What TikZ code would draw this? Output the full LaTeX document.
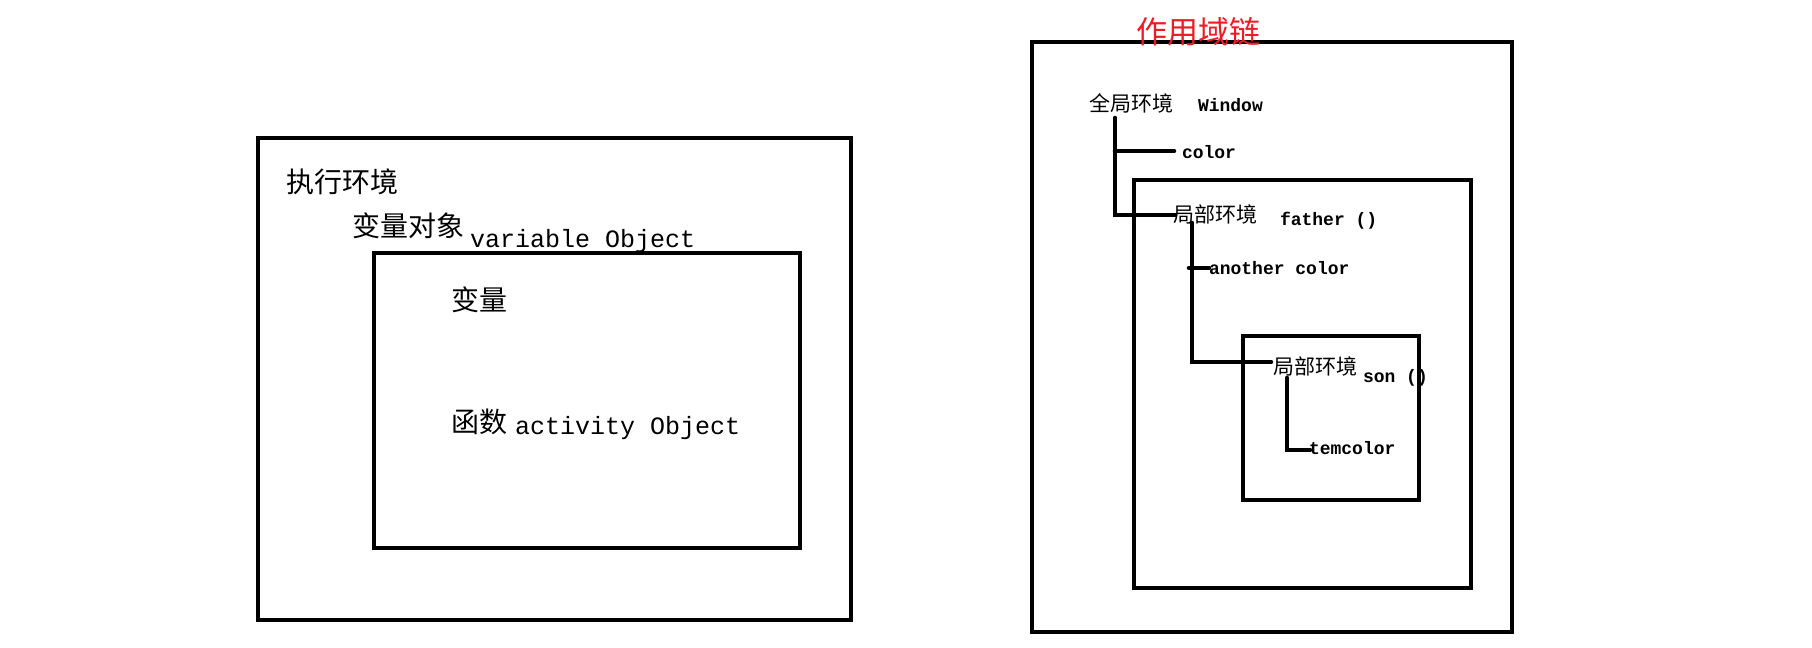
\documentclass[tikz,border=0pt]{standalone}
\usepackage{fontspec}
\newfontfamily\cjk{Noto Sans CJK SC}
\newfontfamily\lat{Liberation Mono}
\definecolor{titlered}{RGB}{237,28,36}
\tikzset{
  box/.style={line width=2.4pt},
  tree/.style={line width=2.3pt, line cap=round},
  txt/.style={inner sep=0pt, outer sep=0pt, anchor=base west},
  cjkL/.style={txt, font=\cjk\fontsize{14pt}{14pt}\selectfont},
  latL/.style={txt, font=\lat\fontsize{12.5pt}{12.5pt}\selectfont},
  cjkR/.style={txt, font=\cjk\fontsize{10.5pt}{10.5pt}\selectfont},
  latR/.style={txt, font=\lat\bfseries\fontsize{9pt}{9pt}\selectfont},
}
\begin{document}
\begin{tikzpicture}[x=0.5pt, y=-0.5pt]
\useasboundingbox (0,0) rectangle (1812,648);
% ---------- left: execution environment ----------
\draw[box] (258,138) rectangle (851,620);
\draw[box] (374,253) rectangle (800,548);
\node[cjkL] (exec) at (286,192.5) {执行环境};
\node[cjkL] (vo) at (352,236.5) {变量对象};
\node[latL] (voen) at (470,247) {variable Object};
\node[cjkL] (var) at (451,310.5) {变量};
\node[cjkL] (fn) at (451,432.5) {函数};
\node[latL] (aoen) at (515,434) {activity Object};
% ---------- right: scope chain ----------
\draw[box] (1032,42) rectangle (1512,632);
\draw[box] (1134,180) rectangle (1471,588);
\draw[box] (1243,336) rectangle (1419,500);
\node[txt, font=\cjk\fontsize{15.5pt}{15.5pt}\selectfont, text=titlered] (title) at (1136,43.5) {作用域链};
\node[cjkR] (glob) at (1089,111.5) {全局环境};
\node[latR] (win) at (1198,112) {Window};
\node[latR] (col) at (1182,158) {color};
\node[cjkR] (loc1) at (1173,222) {局部环境};
\node[latR] (fat) at (1280,225.5) {father ()};
\node[latR] (acol) at (1209,274) {another color};
\node[cjkR] (loc2) at (1273,374) {局部环境};
\node[latR] (son) at (1363,382.5) {son ()};
\node[latR] (tem) at (1309,454) {temcolor};
% tree connectors
\coordinate (g0) at (1115,118);
\coordinate (gc) at (1174,151);
\coordinate (gl) at (1175,215);
\coordinate (f0) at (1192,223);
\coordinate (fa) at (1209,268);
\coordinate (fl) at (1271,362);
\coordinate (s0) at (1287,378);
\coordinate (st) at (1310,450);
\draw[tree] (g0) |- (gl);
\draw[tree] (g0 |- gc) -- (gc);
\draw[tree] (f0) |- (fl);
\draw[tree] ([xshift=-1.5pt]f0 |- fa) -- (fa);
\draw[tree] (s0) |- (st);
\end{tikzpicture}
\end{document}
